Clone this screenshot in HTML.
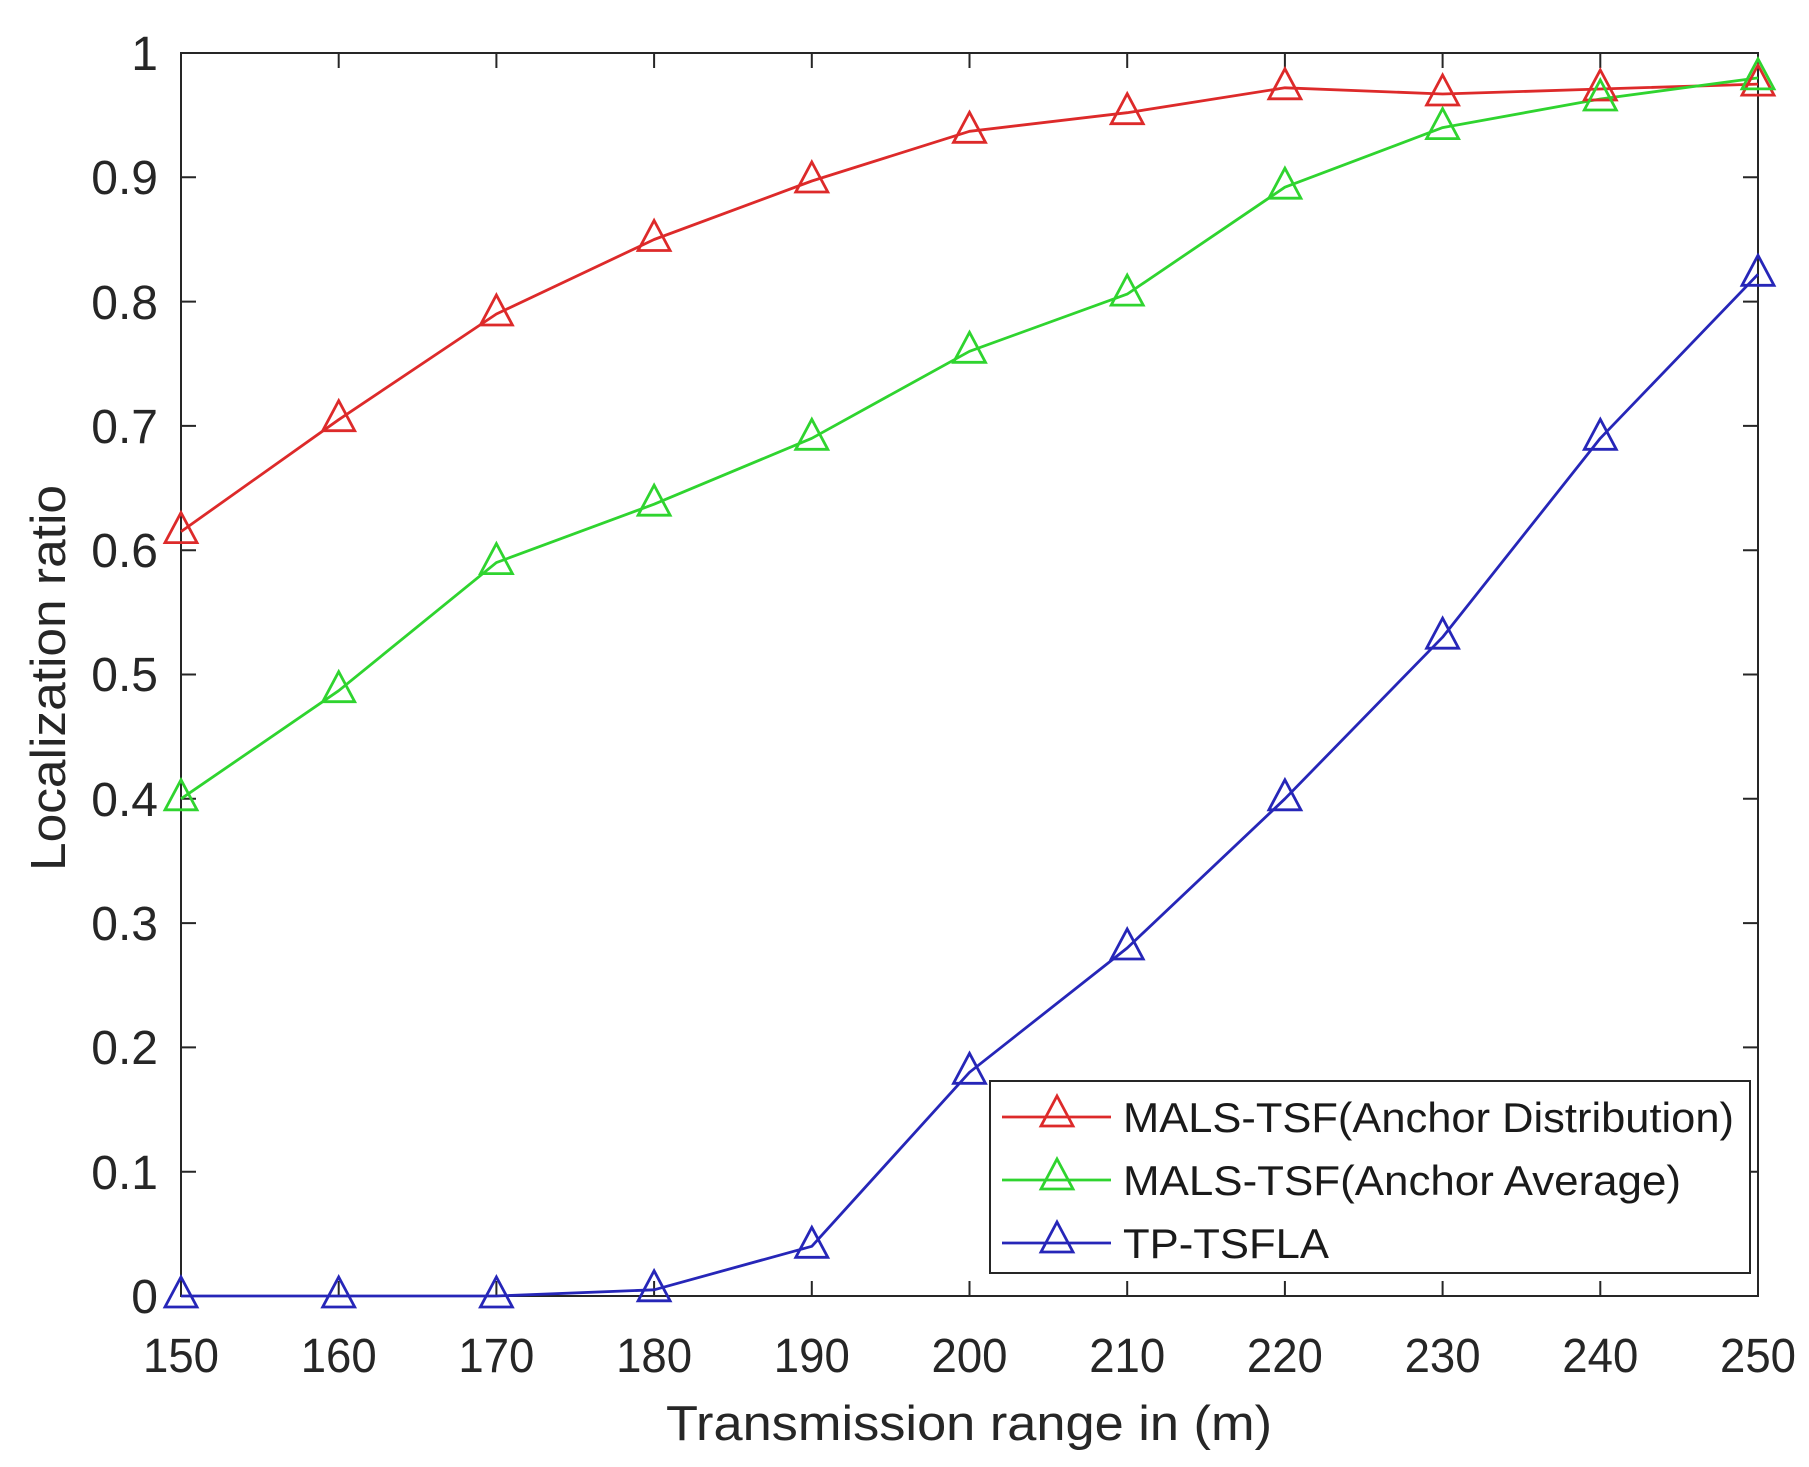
<!DOCTYPE html>
<html><head><meta charset="utf-8"><style>html,body{margin:0;padding:0;background:#fff}svg{display:block}</style></head>
<body>
<svg width="1809" height="1467" viewBox="0 0 1809 1467" xmlns="http://www.w3.org/2000/svg" font-family="Liberation Sans, Arial, sans-serif">
<defs>
<path id="tri" d="M0,-19 L16,11 L-16,11 Z" fill="none" stroke-width="2.8"/>
</defs>
<rect width="1809" height="1467" fill="#fff"/>
<rect x="181" y="53" width="1577" height="1243" fill="none" stroke="#262626" stroke-width="2"/>
<g stroke="#262626" stroke-width="2">
<path d="M181,1296v-15M338.7,1296v-15M496.4,1296v-15M654.1,1296v-15M811.8,1296v-15M969.5,1296v-15M1127.2,1296v-15M1284.9,1296v-15M1442.6,1296v-15M1600.3,1296v-15M1758,1296v-15"/>
<path d="M181,53v15M338.7,53v15M496.4,53v15M654.1,53v15M811.8,53v15M969.5,53v15M1127.2,53v15M1284.9,53v15M1442.6,53v15M1600.3,53v15M1758,53v15"/>
<path d="M181,1296h15M181,1171.7h15M181,1047.4h15M181,923.1h15M181,798.8h15M181,674.5h15M181,550.2h15M181,425.9h15M181,301.6h15M181,177.3h15M181,53h15"/>
<path d="M1758,1296h-15M1758,1171.7h-15M1758,1047.4h-15M1758,923.1h-15M1758,798.8h-15M1758,674.5h-15M1758,550.2h-15M1758,425.9h-15M1758,301.6h-15M1758,177.3h-15M1758,53h-15"/>
</g>
<g font-size="48" fill="#262626" text-anchor="middle">
<text x="181" y="1372" textLength="76" lengthAdjust="spacingAndGlyphs">150</text>
<text x="338.7" y="1372" textLength="76" lengthAdjust="spacingAndGlyphs">160</text>
<text x="496.4" y="1372" textLength="76" lengthAdjust="spacingAndGlyphs">170</text>
<text x="654.1" y="1372" textLength="76" lengthAdjust="spacingAndGlyphs">180</text>
<text x="811.8" y="1372" textLength="76" lengthAdjust="spacingAndGlyphs">190</text>
<text x="969.5" y="1372" textLength="76" lengthAdjust="spacingAndGlyphs">200</text>
<text x="1127.2" y="1372" textLength="76" lengthAdjust="spacingAndGlyphs">210</text>
<text x="1284.9" y="1372" textLength="76" lengthAdjust="spacingAndGlyphs">220</text>
<text x="1442.6" y="1372" textLength="76" lengthAdjust="spacingAndGlyphs">230</text>
<text x="1600.3" y="1372" textLength="76" lengthAdjust="spacingAndGlyphs">240</text>
<text x="1758" y="1372" textLength="76" lengthAdjust="spacingAndGlyphs">250</text>
</g>
<g font-size="48" fill="#262626" text-anchor="end">
<text x="158" y="1313">0</text>
<text x="158" y="1189">0.1</text>
<text x="158" y="1064">0.2</text>
<text x="158" y="940">0.3</text>
<text x="158" y="816">0.4</text>
<text x="158" y="691">0.5</text>
<text x="158" y="567">0.6</text>
<text x="158" y="443">0.7</text>
<text x="158" y="319">0.8</text>
<text x="158" y="194">0.9</text>
<text x="158" y="70">1</text>
</g>
<text x="969" y="1440" font-size="49" fill="#262626" text-anchor="middle" textLength="606" lengthAdjust="spacingAndGlyphs">Transmission range in (m)</text>
<text transform="translate(65,678) rotate(-90)" font-size="49" fill="#262626" text-anchor="middle" textLength="386" lengthAdjust="spacingAndGlyphs">Localization ratio</text>
<g fill="none" stroke-width="2.8" stroke-linejoin="round">
<polyline stroke="#dd2a2a" points="181,531.6 338.7,419.7 496.4,314 654.1,239.5 811.8,181 969.5,131.3 1127.2,112.7 1284.9,87.8 1442.6,94 1600.3,89 1758,84.1"/>
<polyline stroke="#2fd42f" points="181,798.8 338.7,690.7 496.4,562.6 654.1,504.2 811.8,438.3 969.5,351.3 1127.2,294.1 1284.9,187.2 1442.6,127.6 1600.3,99 1758,77.9"/>
<polyline stroke="#2626b8" points="181,1296 338.7,1296 496.4,1296 654.1,1289.8 811.8,1246.3 969.5,1072.3 1127.2,948 1284.9,798.8 1442.6,637.2 1600.3,438.3 1758,274.3"/>
</g>
<g stroke="#dd2a2a">
<use href="#tri" x="181" y="531.6"/><use href="#tri" x="338.7" y="419.7"/><use href="#tri" x="496.4" y="314"/><use href="#tri" x="654.1" y="239.5"/><use href="#tri" x="811.8" y="181"/><use href="#tri" x="969.5" y="131.3"/><use href="#tri" x="1127.2" y="112.7"/><use href="#tri" x="1284.9" y="87.8"/><use href="#tri" x="1442.6" y="94"/><use href="#tri" x="1600.3" y="89"/><use href="#tri" x="1758" y="84.1"/>
</g>
<g stroke="#2fd42f">
<use href="#tri" x="181" y="798.8"/><use href="#tri" x="338.7" y="690.7"/><use href="#tri" x="496.4" y="562.6"/><use href="#tri" x="654.1" y="504.2"/><use href="#tri" x="811.8" y="438.3"/><use href="#tri" x="969.5" y="351.3"/><use href="#tri" x="1127.2" y="294.1"/><use href="#tri" x="1284.9" y="187.2"/><use href="#tri" x="1442.6" y="127.6"/><use href="#tri" x="1600.3" y="99"/><use href="#tri" x="1758" y="77.9"/>
</g>
<g stroke="#2626b8">
<use href="#tri" x="181" y="1296"/><use href="#tri" x="338.7" y="1296"/><use href="#tri" x="496.4" y="1296"/><use href="#tri" x="654.1" y="1289.8"/><use href="#tri" x="811.8" y="1246.3"/><use href="#tri" x="969.5" y="1072.3"/><use href="#tri" x="1127.2" y="948"/><use href="#tri" x="1284.9" y="798.8"/><use href="#tri" x="1442.6" y="637.2"/><use href="#tri" x="1600.3" y="438.3"/><use href="#tri" x="1758" y="274.3"/>
</g>
<rect x="990" y="1081" width="760" height="192" fill="#fff" stroke="#262626" stroke-width="2"/>
<g stroke-width="2.8">
<line x1="1002" y1="1117" x2="1111" y2="1117" stroke="#dd2a2a"/><use href="#tri" x="1057" y="1115" stroke="#dd2a2a"/>
<line x1="1002" y1="1180" x2="1111" y2="1180" stroke="#2fd42f"/><use href="#tri" x="1057" y="1178" stroke="#2fd42f"/>
<line x1="1002" y1="1243" x2="1111" y2="1243" stroke="#2626b8"/><use href="#tri" x="1057" y="1241" stroke="#2626b8"/>
</g>
<g font-size="42" fill="#1a1a1a">
<text x="1123" y="1132" textLength="611" lengthAdjust="spacingAndGlyphs">MALS-TSF(Anchor Distribution)</text>
<text x="1123" y="1195" textLength="558" lengthAdjust="spacingAndGlyphs">MALS-TSF(Anchor Average)</text>
<text x="1123" y="1258" textLength="206" lengthAdjust="spacingAndGlyphs">TP-TSFLA</text>
</g>
</svg>
</body></html>
